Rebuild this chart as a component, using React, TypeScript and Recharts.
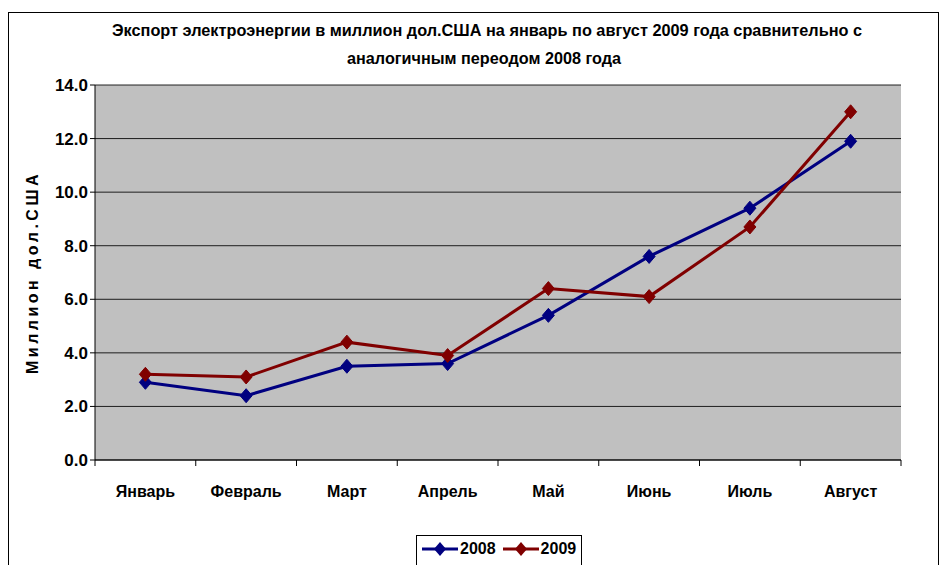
import React from "react";
import { LineChart, Line, XAxis, YAxis, CartesianGrid } from "recharts";

const months = ["Январь", "Февраль", "Март", "Апрель", "Май", "Июнь", "Июль", "Август"];
const values2008 = [2.9, 2.4, 3.5, 3.6, 5.4, 7.6, 9.4, 11.9];
const values2009 = [3.2, 3.1, 4.4, 3.9, 6.4, 6.1, 8.7, 13.0];
const yTicks = [0, 2, 4, 6, 8, 10, 12, 14];

const data = months.map((m, i) => ({
  pos: i + 0.5,
  month: m,
  y2008: values2008[i],
  y2009: values2009[i],
}));

const boundaryTicks = months.map((_, i) => i).concat(months.length);
const labelTicks = months.map((_, i) => i + 0.5);

const FONT = "'Liberation Sans Narrow', 'Arial Narrow', 'Liberation Sans', Arial, sans-serif";

const Diamond = (color: string) => (props: any) => {
  const { cx, cy } = props;
  if (cx == null || cy == null) return null;
  return (
    <polygon
      key={`d-${cx}-${cy}`}
      points={`${cx},${cy - 7} ${cx + 6},${cy} ${cx},${cy + 7} ${cx - 6},${cy}`}
      fill={color}
      stroke={color}
    />
  );
};

const LegendBox = () => (
  <div
    style={{
      position: "absolute",
      left: 416,
      top: 535,
      border: "1px solid #000",
      background: "#fff",
      width: 166,
      height: 40,
      display: "flex",
      paddingTop: 4,
      paddingLeft: 4,
      boxSizing: "border-box",
      fontFamily: FONT,
      fontWeight: "bold",
      fontSize: 16,
    }}
  >
    {[
      { name: "2008", color: "#000080" },
      { name: "2009", color: "#800000" },
    ].map((s) => (
      <div key={s.name} style={{ display: "flex", alignItems: "center", marginRight: 6, height: 18 }}>
        <svg width={38} height={16}>
          <line x1={1} y1={8} x2={37} y2={8} stroke={s.color} strokeWidth={3} />
          <polygon points="19,1 25,8 19,15 13,8" fill={s.color} />
        </svg>
        <span style={{ marginLeft: 1 }}>{s.name}</span>
      </div>
    ))}
  </div>
);

export default function App() {
  return (
    <div
      style={{
        position: "absolute",
        left: 0,
        top: 0,
        width: 942,
        height: 565,
        overflow: "hidden",
        background: "#fff",
        fontFamily: FONT,
      }}
    >
      <div
        style={{
          position: "absolute",
          left: 8,
          top: 12,
          width: 929,
          height: 600,
          border: "1.5px solid #000",
        }}
      />
      <svg width={942} height={80} style={{ position: "absolute", left: 0, top: 0 }}>
        <text x={487} y={36} textAnchor="middle" fontFamily={FONT} fontWeight="bold" fontSize={17} textLength={750} lengthAdjust="spacingAndGlyphs">
          Экспорт электроэнергии в миллион дол.США на январь по август 2009 года сравнительно с
        </text>
        <text x={484} y={64} textAnchor="middle" fontFamily={FONT} fontWeight="bold" fontSize={17} textLength={274} lengthAdjust="spacingAndGlyphs">
          аналогичным переодом 2008 года
        </text>
      </svg>
      <div style={{ position: "absolute", left: 0, top: 0 }}>
        <LineChart
          width={942}
          height={565}
          data={data}
          margin={{ top: 85, right: 41, left: 45, bottom: 59 }}
        >
          <CartesianGrid
            horizontal={true}
            vertical={false}
            fill="#C0C0C0"
            stroke="#000"
            strokeWidth={1}
            strokeOpacity={0.85}
          />
          <XAxis
            xAxisId="a_ticks"
            dataKey="pos"
            type="number"
            domain={[0, 8]}
            ticks={boundaryTicks}
            tickSize={6}
            tickFormatter={() => ""}
            stroke="#000"
            height={6}
            interval={0}
          />
          <XAxis
            xAxisId="b_labels"
            dataKey="pos"
            type="number"
            domain={[0, 8]}
            ticks={labelTicks}
            tickFormatter={(v: number) => months[Math.round(v - 0.5)]}
            axisLine={false}
            tickLine={false}
            tick={{ fill: "#000", fontSize: 16, fontWeight: "bold", fontFamily: FONT, dy: 12 }}
            interval={0}
            height={40}
          />
          <YAxis
            domain={[0, 14]}
            ticks={yTicks}
            tickFormatter={(v: number) => v.toFixed(1)}
            tickSize={5}
            stroke="#000"
            width={50}
            interval={0}
            tick={{ fill: "#000", fontSize: 17, fontWeight: "bold", fontFamily: FONT }}
            label={{
              value: "Миллион дол.США",
              angle: -90,
              position: "insideLeft",
              offset: -13,
              style: {
                fontFamily: "'Liberation Sans', Arial, sans-serif",
                fontWeight: "bold",
                fontSize: 16,
                letterSpacing: 3.5,
                fill: "#000",
                textAnchor: "middle",
              },
            }}
          />
          <Line
            xAxisId="a_ticks"
            dataKey="y2008"
            stroke="#000080"
            strokeWidth={3}
            dot={Diamond("#000080")}
            isAnimationActive={false}
          />
          <Line
            xAxisId="a_ticks"
            dataKey="y2009"
            stroke="#800000"
            strokeWidth={3}
            dot={Diamond("#800000")}
            isAnimationActive={false}
          />
        </LineChart>
      </div>
      <LegendBox />
    </div>
  );
}
